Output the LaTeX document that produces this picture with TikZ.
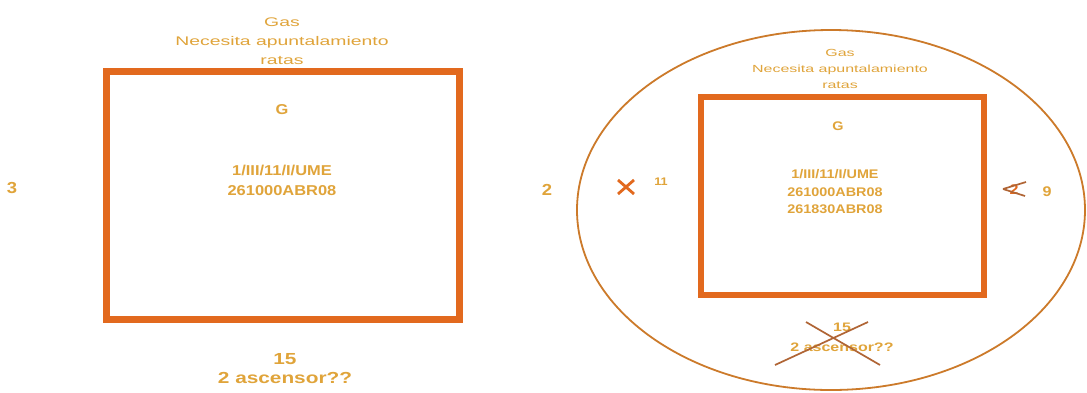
\documentclass[tikz,border=0pt]{standalone}
\usepackage{fontspec}
\setmainfont{Liberation Sans}
\newfontfamily\widefont[FakeStretch=1.55]{Liberation Sans}
\newfontfamily\midfont[FakeStretch=1.15]{Liberation Sans}
\newfontfamily\lowfont[FakeStretch=1.3]{Liberation Sans}
\definecolor{rectc}{HTML}{E2691E}
\definecolor{txtc}{HTML}{E0A43A}
\definecolor{ellc}{HTML}{CC7A2A}
\definecolor{crossc}{HTML}{B06535}
\begin{document}
\begin{tikzpicture}[x=1pt,y=-1pt,
  box/.style={draw=rectc,line width=7pt},
  thinbox/.style={draw=rectc,line width=6pt},
  ring/.style={draw=ellc,line width=1.8pt},
  strike/.style={draw=crossc,line width=1.7pt},
  note/.style={text=txtc,align=center,inner sep=0pt},
  small/.style={font=\widefont\fontsize{12.5}{19}\selectfont},
  smaller/.style={font=\widefont\fontsize{10.3}{16}\selectfont},
  big/.style={font=\midfont\bfseries\fontsize{14.3}{20}\selectfont},
  mid/.style={font=\midfont\bfseries\fontsize{12.5}{17.5}\selectfont},
  low/.style={font=\lowfont\bfseries\fontsize{16}{19}\selectfont},
  lowr/.style={font=\lowfont\bfseries\fontsize{12.3}{20}\selectfont}]
\useasboundingbox[fill=white] (0,0) rectangle (1087,392);
% left
\draw[box] (106.5,71.5) rectangle (459.5,319);
\node[note,small] (lt) at (282,41) {Gas\\Necesita apuntalamiento\\ratas};
\node[note,big] (lg) at (282,110) {G};
\node[note,big] (lid) at (282,180) {1/III/11/I/UME\\261000ABR08};
\node[note,big,font=\midfont\bfseries\fontsize{16}{20}\selectfont] (l3) at (12,188) {3};
\node[note,big,font=\midfont\bfseries\fontsize{16}{20}\selectfont] (l2) at (547,190) {2};
\node[note,low] (lb) at (285,368.5) {15\\2 ascensor??};
% right
\draw[ring] (831,210) ellipse [x radius=254, y radius=180];
\draw[thinbox] (701,96.5) rectangle (984,295);
\node[note,smaller] (rt) at (840,69) {Gas\\Necesita apuntalamiento\\ratas};
\node[note,mid] (rg) at (838,126) {G};
\node[note,mid] (rid) at (835,192) {1/III/11/I/UME\\261000ABR08\\261830ABR08};
% X 11
\node[inner sep=0pt] (x11) at (626,187) {};
\draw[draw=rectc,line width=2.8pt] ([shift={(-8,-7)}]x11.center) -- ([shift={(8,7)}]x11.center);
\draw[draw=rectc,line width=2.8pt] ([shift={(-8,7)}]x11.center) -- ([shift={(8,-7)}]x11.center);
\node[note,font=\midfont\bfseries\fontsize{11}{12}\selectfont] (n11) at (661,182) {11};
% crossed 2, 9
\node[note,font=\midfont\bfseries\fontsize{14}{16}\selectfont,text=rectc] (c2) at (1014,190) {2};
\draw[strike] ([shift={(-11,-1)}]c2.center) -- ([shift={(12,-8)}]c2.center);
\draw[strike] ([shift={(-11,-1)}]c2.center) -- ([shift={(11,6)}]c2.center);
\node[note,font=\midfont\bfseries\fontsize{14}{16}\selectfont] (n9) at (1047,192) {9};
% bottom right
\node[note,lowr] (rb) at (842,337) {15\\2 ascensor??};
\coordinate (ca) at (806,322);
\coordinate (cb) at (880,365);
\coordinate (cc) at (868,322);
\coordinate (cd) at (775,365);
\draw[strike] (ca) -- (cb);
\draw[strike] (cc) -- (cd);
\end{tikzpicture}
\end{document}
